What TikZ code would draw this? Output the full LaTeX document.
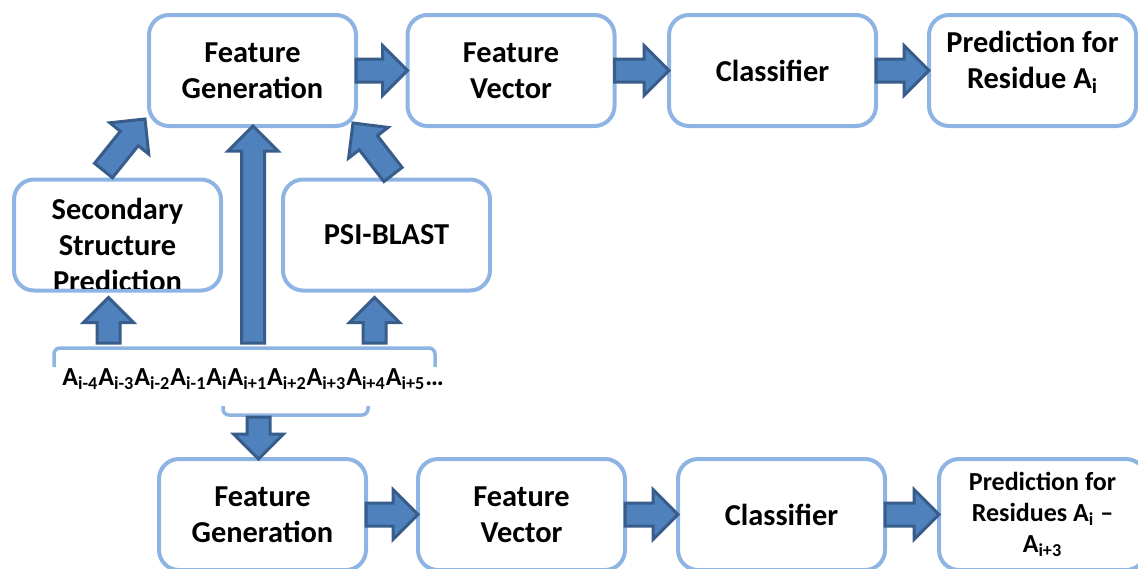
\documentclass[tikz,border=0pt]{standalone}
\usepackage{fontspec}
\setmainfont{Carlito}
\usepackage{tikz}
\usetikzlibrary{
    calc
}
\definecolor{boxblue}{HTML}{8EB4E3}
\definecolor{arrowfill}{HTML}{4F81BD}
\definecolor{arrowline}{HTML}{385D8A}
\newcommand{\resA}[1]{A\textsubscript{#1}}
\tikzset{% block arrow drawn as one closed outline
    fat arrow/.style={
        draw=arrowline, fill=arrowfill, line width=1.5pt,
        to path={
            ($(\tikztostart)!5.75pt!90:(\tikztotarget)$)
            -- ($(\tikztotarget)!12.5pt!(\tikztostart)!5.75pt!-90:(\tikztostart)$)
            -- ($(\tikztotarget)!12.5pt!(\tikztostart)!12.5pt!-90:(\tikztostart)$)
            -- (\tikztotarget)
            -- ($(\tikztotarget)!12.5pt!(\tikztostart)!12.5pt!90:(\tikztostart)$)
            -- ($(\tikztotarget)!12.5pt!(\tikztostart)!5.75pt!90:(\tikztostart)$)
            -- ($(\tikztostart)!5.75pt!-90:(\tikztotarget)$)
            -- cycle
        }
    }
}

\begin{document}
\begin{tikzpicture}[
        x=0.5pt, y=-0.5pt,
        box text/.style={align=center, inner sep=0pt, font=\fontsize{15.2}{18}\selectfont\bfseries},
        box/.style={box text, draw=boxblue, line width=2pt, rounded corners=10pt, outer sep=0pt,
            minimum width=103.5pt, minimum height=55.5pt},
        small text/.style={font=\fontsize{13}{15.5}\selectfont\bfseries},
        bracket/.style={draw=boxblue, line width=1.75pt, rounded corners=3pt}
    ]
    \useasboundingbox (0,0) rectangle (1138,568);
    \clip (0,0) rectangle (1138,568);

    % upper chain
    \node[box] (fg1) at (252.5,70.5) {Feature\\Generation};
    \node[box] (fv1) at (511,70.5) {Feature\\Vector};
    \node[box] (cl1) at (772.5,70.5) {Classifier};
    \node[box, text depth=11pt] (pred1) at (1032.5,70.5) {Prediction for\\Residue \resA{i}};
    \node[box] (ss) at (117.5,235) {};
    \node[box] (psi) at (386.5,235) {PSI-BLAST};
    \begin{scope}
        \clip ([shift={(1pt,1pt)}]ss.south west) rectangle ([shift={(-1pt,-1pt)}]ss.north east);
        \node[box text] (sslabel) at (117.5,244.5) {Secondary\\Structure\\Prediction};
    \end{scope}

    % lower chain
    \node[box] (fg2) at (262.5,514.5) {Feature\\Generation};
    \node[box] (fv2) at (521.5,514.5) {Feature\\Vector};
    \node[box] (cl2) at (781.5,514.5) {Classifier};
    \node[box, small text] (pred2) at (1042.5,514.5) {Prediction for\\Residues \resA{i} --\\\resA{i+3}};

    % sequence and its brackets
    \draw[bracket] (54,367) -- (54,348) -- (435,348) -- (435,367);
    \draw[bracket] (223,406) -- (223,415) -- (368,415) -- (368,406);
    \node[anchor=base west, inner sep=0pt, font=\fontsize{13}{15}\selectfont\bfseries] (seq) at (62,385)
        {\resA{i-4}\resA{i-3}\resA{i-2}\resA{i-1}\resA{i}\resA{i+1}\resA{i+2}\resA{i+3}\resA{i+4}\resA{i+5}\ldots};

    \coordinate (seqtail) at (253,343);
    \coordinate (sstail) at (108.5,343);
    \coordinate (sstip) at ($(sstail |- ss.south)+(0,7)$);
    \coordinate (psitail) at (374.5,343);
    \coordinate (psitip) at ($(psitail |- psi.south)+(0,7)$);
    \coordinate (fgtail) at (258.5,417);
    \coordinate (fgtip) at (fgtail |- fg2.north);
    \coordinate (ssout) at ($(ss.north)+(-14,-9)$);
    \coordinate (ssin) at ($(fg1.south west)+(-4,-7)$);
    \coordinate (psiout) at ($(psi.north)+(6.5,-5)$);
    \coordinate (psiin) at ($(fg1.south east)+(-3,-3)$);

    \draw[fat arrow] (fg1.east) to (fv1.west);
    \draw[fat arrow] (fv1.east) to (cl1.west);
    \draw[fat arrow] (cl1.east) to (pred1.west);
    \draw[fat arrow] (fg2.east) to (fv2.west);
    \draw[fat arrow] (fv2.east) to (cl2.west);
    \draw[fat arrow] (cl2.east) to (pred2.west);
    \draw[fat arrow] (seqtail) to (seqtail |- fg1.south);
    \draw[fat arrow] (sstail) to (sstip);
    \draw[fat arrow] (psitail) to (psitip);
    \draw[fat arrow] (fgtail) to (fgtip);
    \draw[fat arrow] (ssout) to (ssin);
    \draw[fat arrow] (psiout) to (psiin);
\end{tikzpicture}
\end{document}
